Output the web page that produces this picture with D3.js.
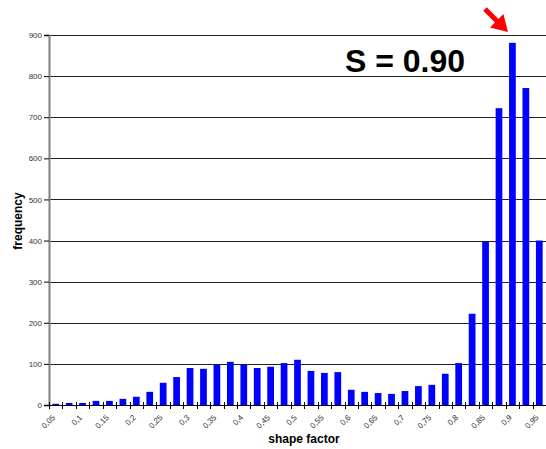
<!DOCTYPE html>
<html><head><meta charset="utf-8">
<script src="https://cdn.jsdelivr.net/npm/d3@7"></script>
<style>body{margin:0;background:#fff}svg{display:block}text{font-family:"Liberation Sans",Arial,sans-serif}</style>
</head><body>
<script>
const categories = ["0,05","0,075","0,1","0,125","0,15","0,175","0,2","0,225","0,25","0,275","0,3","0,325","0,35","0,375","0,4","0,425","0,45","0,475","0,5","0,525","0,55","0,575","0,6","0,625","0,65","0,675","0,7","0,725","0,75","0,775","0,8","0,825","0,85","0,875","0,9","0,925","0,95"];
const frequency = [3,5,5,10,10,15,20,32,54,68,90,88,98,105,98,90,93,102,110,83,78,80,37,32,29,27,34,46,49,76,102,222,397,722,881,771,400];
const xTickLabels = ["0,05","0,1","0,15","0,2","0,25","0,3","0,35","0,4","0,45","0,5","0,55","0,6","0,65","0,7","0,75","0,8","0,85","0,9","0,95"];
const yTicks = [0,100,200,300,400,500,600,700,800,900];
const annotation = "S = 0.90";

(function () {
const W = 546, H = 449;
const mL = 49, mR = 546, mT = 35, mB = 405;
const svg = d3.select("body").append("svg").attr("width", W).attr("height", H);

const x = d3.scaleBand().domain(categories).range([mL, mR]).paddingInner(0.5).paddingOuter(0.25);
const xb = d3.scaleBand().domain(categories).range([mL, mR]);
const y = d3.scaleLinear().domain([0, 900]).range([mB, mT]);

// gridlines
svg.append("g").selectAll("line").data(yTicks.filter(d => d > 0)).join("line")
  .attr("x1", mL).attr("x2", mR)
  .attr("y1", d => Math.round(y(d)) + 0.5).attr("y2", d => Math.round(y(d)) + 0.5)
  .attr("stroke", "#222").attr("stroke-width", 1);

// bars
svg.append("g").selectAll("rect").data(frequency).join("rect")
  .attr("x", (d, i) => x(categories[i]))
  .attr("width", x.bandwidth())
  .attr("y", d => y(d))
  .attr("height", d => mB - y(d))
  .attr("fill", "#0000ff");

// y axis
const yAxis = d3.axisLeft(y).tickValues(yTicks).tickSize(5).tickPadding(2).tickFormat(d3.format("d"));
const gy = svg.append("g").attr("transform", `translate(${mL},0)`).call(yAxis);
gy.select(".domain").attr("stroke", "#808080").attr("stroke-width", 2);
gy.selectAll(".tick line").attr("stroke", "#000");
gy.selectAll("text").attr("font-size", 8).attr("fill", "#333");

// x axis line
svg.append("line").attr("x1", mL).attr("x2", mR).attr("y1", mB + 0.5).attr("y2", mB + 0.5).attr("stroke", "#000");
// x ticks at boundaries
const bounds = categories.map(c => xb(c)).concat([mR - 0.5]);
svg.append("g").selectAll("line").data(bounds).join("line")
  .attr("x1", d => Math.round(d) + 0.5).attr("x2", d => Math.round(d) + 0.5)
  .attr("y1", mB - 3).attr("y2", mB + 4).attr("stroke", "#000");

// x tick labels
svg.append("g").selectAll("text").data(xTickLabels).join("text")
  .attr("transform", d => `translate(${xb(d) + xb.bandwidth() / 2 - 2},${mB + 11}) rotate(-45)`)
  .attr("text-anchor", "end").attr("dy", "0.35em")
  .attr("font-size", 8).attr("fill", "#333").text(d => d);

// axis titles
svg.append("text").attr("x", 304).attr("y", 443).attr("text-anchor", "middle")
  .attr("font-size", 12).attr("font-weight", "bold").text("shape factor");
svg.append("text").attr("transform", "translate(22,221) rotate(-90)").attr("text-anchor", "middle")
  .attr("font-size", 12).attr("font-weight", "bold").text("frequency");

// annotation
svg.append("text").attr("x", 345).attr("y", 72).attr("font-size", 32).attr("font-weight", "bold").text(annotation);

// red arrow
const tail = [485, 9], tip = [508, 32];
const dx = tip[0] - tail[0], dy = tip[1] - tail[1], L = Math.hypot(dx, dy);
const ux = dx / L, uy = dy / L, px = -uy, py = ux;
const hl = 16, hw = 9.5, sw = 2.5;
const bx = tip[0] - hl * ux, by = tip[1] - hl * uy;
const pts = [
  [tail[0] + px * sw, tail[1] + py * sw],
  [bx + px * sw, by + py * sw],
  [bx + px * hw, by + py * hw],
  tip,
  [bx - px * hw, by - py * hw],
  [bx - px * sw, by - py * sw],
  [tail[0] - px * sw, tail[1] - py * sw]
];
svg.append("path").attr("d", d3.line()(pts) + "Z").attr("fill", "#ff0000");
})();
</script>
</body></html>
